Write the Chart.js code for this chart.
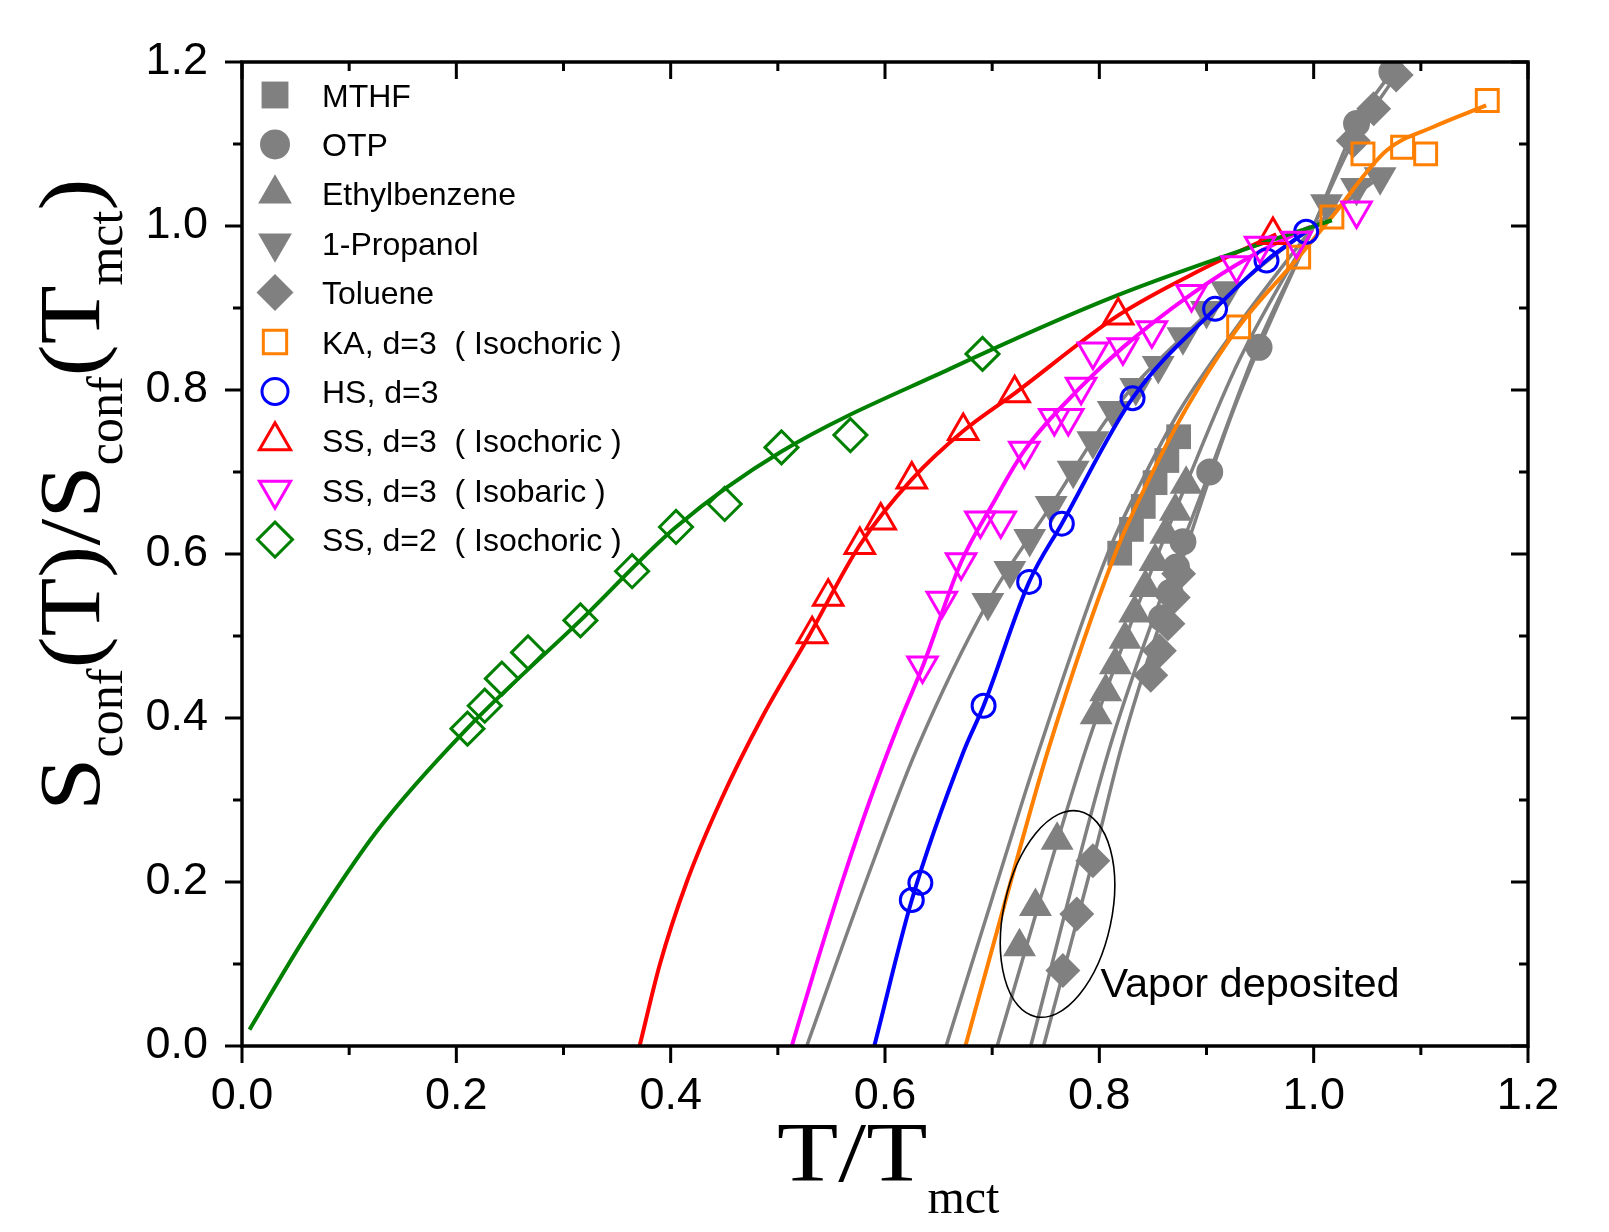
<!DOCTYPE html>
<html>
<head>
<meta charset="utf-8">
<script src="https://cdn.jsdelivr.net/npm/chart.js@4.4.1/dist/chart.umd.min.js"></script>
<style>
  html, body { margin: 0; padding: 0; background: #fff; }
  #wrap { width: 1609px; height: 1232px; }
</style>
</head>
<body>
<div id="wrap"><canvas id="canvas" width="1609" height="1232"></canvas></div>
<script>
// axis ticks
const tickValues = [0, 0.2, 0.4, 0.6, 0.8, 1.0, 1.2];
const tickLabels = ['0.0', '0.2', '0.4', '0.6', '0.8', '1.0', '1.2'];

// experimental liquids (filled grey markers) : [T/Tmct, Sconf ratio]
const mthfPts = [[0.819, 0.601], [0.830, 0.630], [0.841, 0.658], [0.852, 0.687], [0.863, 0.714], [0.874, 0.743]];
const otpPts = [[0.858, 0.522], [0.866, 0.553], [0.872, 0.584], [0.878, 0.615], [0.903, 0.700], [0.949, 0.852], [1.040, 1.125], [1.073, 1.188]];
const ethylPts = [[0.7255, 0.121], [0.7404, 0.170], [0.7606, 0.251], [0.797, 0.404], [0.806, 0.432], [0.815, 0.465], [0.824, 0.496],
  [0.833, 0.528], [0.843, 0.559], [0.852, 0.591], [0.862, 0.624], [0.871, 0.652], [0.881, 0.685]];
const propPts = [[0.696, 0.541], [0.7165, 0.580], [0.735, 0.619], [0.755, 0.659], [0.7756, 0.702], [0.794, 0.738], [0.813, 0.775],
  [0.834, 0.803], [0.855, 0.830], [0.878, 0.865], [0.900, 0.897], [0.919, 0.921], [1.012, 1.027], [1.040, 1.047], [1.062, 1.060]];
const toluPts = [[0.766, 0.092], [0.779, 0.161], [0.794, 0.226], [0.848, 0.452], [0.856, 0.482], [0.864, 0.515], [0.869, 0.547],
  [0.874, 0.576], [1.037, 1.104], [1.056, 1.143], [1.077, 1.184]];

// fit curves of the liquids
const mthfFit = [[0.657, 0], [0.700, 0.18], [0.7435, 0.36], [0.808, 0.601], [0.840, 0.69], [0.875, 0.775], [0.93, 0.88], [1.0, 1.0]];
const otpFit = [[0.736, 0], [0.8088, 0.36], [0.85, 0.52], [0.878, 0.615], [0.903, 0.70], [0.947, 0.852], [1.0, 1.0], [1.040, 1.125], [1.073, 1.188]];
const ethylFit = [[0.7047, 0], [0.787, 0.36], [0.824, 0.496], [0.852, 0.591], [0.881, 0.685], [0.93, 0.835], [1.0, 1.0]];
const propFit = [[0.527, 0], [0.582, 0.2], [0.629, 0.36], [0.696, 0.541], [0.755, 0.659], [0.813, 0.775], [0.878, 0.865], [0.95, 0.95], [1.0, 1.0], [1.062, 1.06]];
const toluFit = [[0.748, 0], [0.794, 0.226], [0.8197, 0.36], [0.845, 0.47], [0.874, 0.58], [0.925, 0.775], [1.0, 1.0], [1.037, 1.104], [1.077, 1.184]];

// simulations (open markers)
const kaPts = [[0.930, 0.877], [0.986, 0.962], [1.017, 1.011], [1.046, 1.088], [1.083, 1.096], [1.1045, 1.088], [1.162, 1.153]];
const hsPts = [[0.625, 0.178], [0.633, 0.199], [0.692, 0.415], [0.7345, 0.566], [0.765, 0.637], [0.831, 0.790], [0.908, 0.899], [0.956, 0.958], [0.993, 0.993]];
const ss3vPts = [[0.532, 0.502], [0.547, 0.548], [0.5765, 0.611], [0.596, 0.641], [0.625, 0.691], [0.673, 0.750], [0.721, 0.796], [0.8176, 0.891], [0.962, 0.989]];
const ss3pPts = [[0.635, 0.464], [0.653, 0.543], [0.671, 0.590], [0.689, 0.641], [0.708, 0.641], [0.730, 0.726], [0.758, 0.766], [0.771, 0.766],
  [0.783, 0.804], [0.794, 0.847], [0.822, 0.852], [0.849, 0.873], [0.886, 0.917], [0.928, 0.952], [0.950, 0.976], [0.984, 0.982], [1.040, 1.019]];
const ss2Pts = [[0.2104, 0.387], [0.2265, 0.415], [0.2425, 0.448], [0.2669, 0.480], [0.3158, 0.519], [0.364, 0.579], [0.405, 0.633],
  [0.4504, 0.661], [0.5034, 0.730], [0.5677, 0.745], [0.691, 0.844]];

// fit curves of the simulations
const kaFit = [[0.675, 0], [0.713, 0.18], [0.752, 0.36], [0.815, 0.601], [0.846, 0.69], [0.880, 0.775], [0.930, 0.877], [0.986, 0.962],
  [1.017, 1.011], [1.068, 1.092], [1.112, 1.121], [1.161, 1.147]];
const hsFit = [[0.590, 0], [0.625, 0.178], [0.6736, 0.36], [0.692, 0.415], [0.7345, 0.566], [0.765, 0.637], [0.831, 0.790], [0.908, 0.899], [0.956, 0.958], [0.993, 0.993]];
const ss3vFit = [[0.371, 0], [0.390, 0.1], [0.415, 0.2], [0.447, 0.3], [0.485, 0.4], [0.529, 0.5], [0.5765, 0.611], [0.625, 0.691], [0.673, 0.750],
  [0.721, 0.796], [0.8176, 0.891], [0.894, 0.946], [0.965, 0.99]];
const ss3pFit = [[0.513, 0], [0.536, 0.1], [0.560, 0.2], [0.586, 0.3], [0.612, 0.39], [0.6355, 0.464], [0.671, 0.59], [0.70, 0.66], [0.730, 0.726],
  [0.783, 0.804], [0.822, 0.852], [0.886, 0.917], [0.94, 0.962], [0.997, 0.999]];
const ss2Fit = [[0.007, 0.02], [0.06, 0.135], [0.1265, 0.263], [0.21, 0.387], [0.3158, 0.519], [0.405, 0.633], [0.5034, 0.725],
  [0.661, 0.826], [0.816, 0.915], [0.959, 0.982], [1.017, 1.007]];

const seriesNames = ['MTHF', 'OTP', 'Ethylbenzene', '1-Propanol', 'Toluene',
  'KA, d=3  ( Isochoric )', 'HS, d=3', 'SS, d=3  ( Isochoric )', 'SS, d=3  ( Isobaric )', 'SS, d=2  ( Isochoric )'];

const GREY = '#808080';
const ORANGE = '#ff7f00';
const BLUE = '#0000ff';
const RED = '#ff0000';
const MAGENTA = '#ff00ff';
const GREEN = '#008000';

function toXY(a) {
  return a.map(p => ({ x: p[0], y: p[1] }));
}

function fitLine(data, color, width, order) {
  return {
    type: 'line', data: toXY(data), borderColor: color, borderWidth: width, pointRadius: 0,
    cubicInterpolationMode: 'monotone', fill: false, order: order
  };
}

// [pointStyle, rotation, radius, filled, colour]
const styles = [
  ['rect', 0, 17.5, true, GREY],
  ['circle', 0, 13.5, true, GREY],
  ['triangle', 0, 19, true, GREY],
  ['triangle', 180, 19, true, GREY],
  ['rectRot', 0, 17.5, true, GREY],
  ['rect', 0, 15.5, false, ORANGE],
  ['circle', 0, 11.5, false, BLUE],
  ['triangle', 0, 17, false, RED],
  ['triangle', 180, 17, false, MAGENTA],
  ['rectRot', 0, 16.5, false, GREEN]
];

function markers(data, idx, order) {
  const s = styles[idx];
  return {
    type: 'scatter', label: seriesNames[idx], data: toXY(data), showLine: false,
    pointStyle: s[0], rotation: s[1], pointRadius: s[2],
    backgroundColor: s[3] ? s[4] : 'rgba(0,0,0,0)', borderColor: s[4],
    borderWidth: s[3] ? 0 : 3, order: order
  };
}

const datasets = [
  markers(ss2Pts, 9, 1), markers(ss3pPts, 8, 1), markers(ss3vPts, 7, 1), markers(hsPts, 6, 1), markers(kaPts, 5, 1),
  fitLine(ss2Fit, GREEN, 4, 2), fitLine(ss3vFit, RED, 4, 2), fitLine(ss3pFit, MAGENTA, 4, 2),
  fitLine(hsFit, BLUE, 4, 2), fitLine(kaFit, ORANGE, 4, 2),
  markers(mthfPts, 0, 3), markers(otpPts, 1, 3), markers(ethylPts, 2, 3), markers(propPts, 3, 3), markers(toluPts, 4, 3),
  fitLine(mthfFit, GREY, 3.5, 4), fitLine(otpFit, GREY, 3.5, 4), fitLine(ethylFit, GREY, 3.5, 4),
  fitLine(propFit, GREY, 3.5, 4), fitLine(toluFit, GREY, 3.5, 4)
];

function tickLabel(v) {
  const i = tickValues.findIndex(t => Math.abs(t - v) < 1e-6);
  return i >= 0 ? tickLabels[i] : '';
}

const SANS = '"Liberation Sans", Arial, Helvetica, sans-serif';
const SERIF = '"Liberation Serif", "Times New Roman", Times, serif';

// text made of normal and subscript pieces, written along +x of the current transform
function drawRich(ctx, parts, mainSize, subSize, subShift, stretch) {
  let x = 0;
  parts.forEach(p => {
    const sub = p[1];
    ctx.font = (sub ? subSize : mainSize) + 'px ' + SERIF;
    const k = sub ? 1 : stretch;
    ctx.save();
    ctx.translate(x, sub ? subShift : 0);
    ctx.scale(k, 1);
    ctx.fillText(p[0], 0, 0);
    ctx.restore();
    x += ctx.measureText(p[0]).width * k;
  });
}

const framePlugin = {
  id: 'frame',
  afterDraw(chart) {
    const ctx = chart.ctx;
    const a = chart.chartArea;
    const xs = chart.scales.x, ys = chart.scales.y;
    ctx.save();
    ctx.strokeStyle = '#000';
    ctx.lineWidth = 3.5;
    ctx.strokeRect(a.left, a.top, a.right - a.left, a.bottom - a.top);
    ctx.lineWidth = 3;
    for (let i = 0; i <= 12; i++) {
      const v = i / 10;
      const len = i % 2 === 0 ? 17 : 9;
      const px = xs.getPixelForValue(v);
      const py = ys.getPixelForValue(v);
      ctx.beginPath();
      ctx.moveTo(px, a.bottom); ctx.lineTo(px, a.bottom + len);
      ctx.moveTo(px, a.top); ctx.lineTo(px, a.top + len);
      ctx.moveTo(a.left, py); ctx.lineTo(a.left - len, py);
      ctx.moveTo(a.right, py); ctx.lineTo(a.right - len, py);
      ctx.stroke();
    }

    // legend
    const lx = a.left + 33, ly0 = a.top + 33, dy = 49.4;
    const legR = [19, 15, 19.5, 19.5, 18.5, 16.5, 13, 18, 18, 17.5];
    styles.forEach((s, i) => {
      const y = ly0 + i * dy;
      ctx.save();
      ctx.fillStyle = s[3] ? s[4] : 'rgba(0,0,0,0)';
      ctx.strokeStyle = s[4];
      ctx.lineWidth = 3;
      Chart.helpers.drawPoint(ctx, { pointStyle: s[0], rotation: s[1], radius: legR[i], borderWidth: s[3] ? 0 : 3 }, lx, y);
      ctx.restore();
      ctx.fillStyle = '#000';
      ctx.font = '32px ' + SANS;
      ctx.textAlign = 'left';
      ctx.textBaseline = 'alphabetic';
      ctx.fillText(seriesNames[i], lx + 47, y + 11.5);
    });

    // vapor deposited annotation
    const ex = xs.getPixelForValue(0.761), ey = ys.getPixelForValue(0.161);
    ctx.lineWidth = 1.6;
    ctx.beginPath();
    ctx.ellipse(ex, ey, 54, 105, 12 * Math.PI / 180, 0, Math.PI * 2);
    ctx.stroke();
    ctx.font = '41.5px ' + SANS;
    ctx.fillStyle = '#000';
    ctx.fillText('Vapor deposited', xs.getPixelForValue(0.801), ys.getPixelForValue(0.06));

    // axis titles
    ctx.save();
    ctx.translate(777, 1181);
    drawRich(ctx, [['T/T', false], ['mct', true]], 85, 48, 32, 1.18);
    ctx.restore();

    ctx.save();
    ctx.translate(99, 811);
    ctx.rotate(-Math.PI / 2);
    drawRich(ctx, [['S', false], ['conf', true], ['(T)/S', false], ['conf', true], ['(T', false], ['mct', true], [')', false]], 86, 50, 23, 1.12);
    ctx.restore();
    ctx.restore();
  }
};

const tickFont = { family: SANS, size: 45 };

new Chart(document.getElementById('canvas').getContext('2d'), {
  type: 'scatter',
  data: { datasets: datasets },
  options: {
    responsive: false,
    devicePixelRatio: 1,
    animation: false,
    layout: { padding: { left: 0, top: 62, right: 81, bottom: 0 } },
    plugins: { legend: { display: false }, tooltip: { enabled: false } },
    scales: {
      x: {
        type: 'linear', min: 0, max: 1.2,
        grid: { display: false, drawTicks: false },
        border: { display: false },
        ticks: { stepSize: 0.1, autoSkip: false, maxRotation: 0, padding: 24, color: '#000', font: tickFont, callback: tickLabel },
        afterFit(s) { s.height = 186; }
      },
      y: {
        type: 'linear', min: 0, max: 1.2,
        grid: { display: false, drawTicks: false },
        border: { display: false },
        ticks: { stepSize: 0.1, autoSkip: false, padding: 34, color: '#000', font: tickFont, callback: tickLabel },
        afterFit(s) { s.width = 242; }
      }
    }
  },
  plugins: [framePlugin]
});
</script>
</body>
</html>
